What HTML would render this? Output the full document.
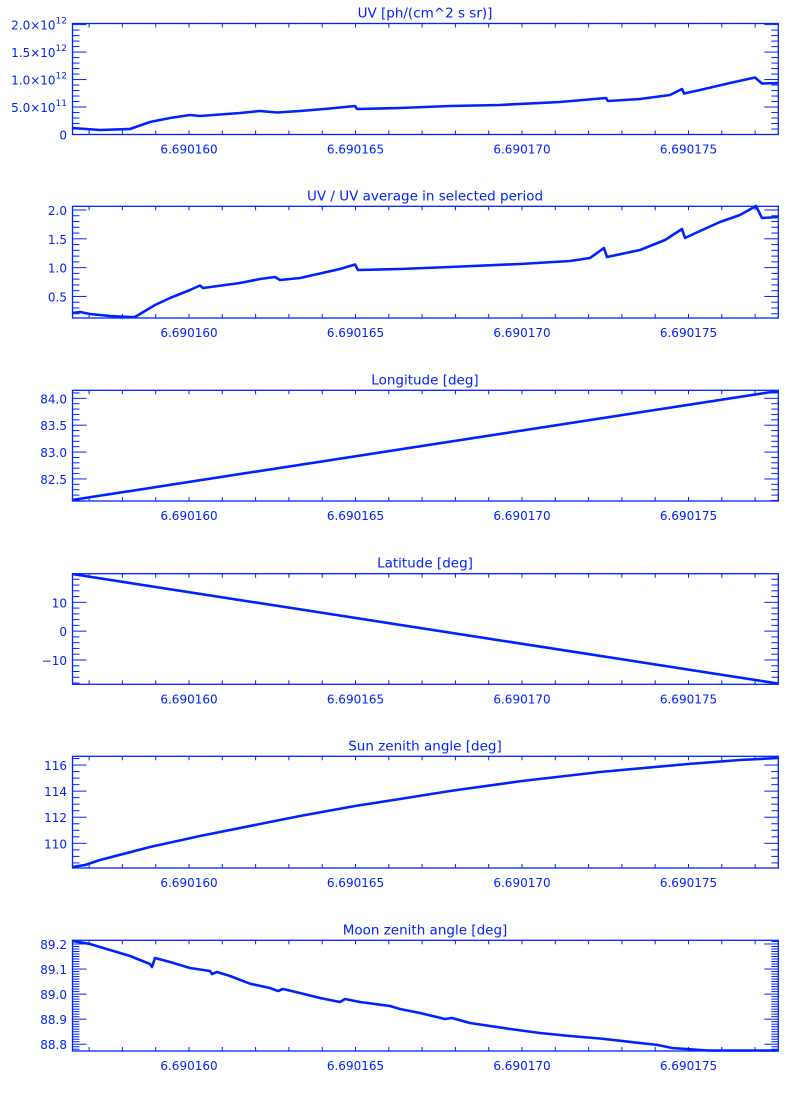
<!DOCTYPE html>
<html><head><meta charset="utf-8">
<style>
html,body{margin:0;padding:0;background:#fff;}
svg{display:block;}
text{font-family:"DejaVu Sans","Liberation Sans",sans-serif;fill:#0022ff;}
</style></head>
<body>
<svg id="s" width="800" height="1100" xmlns="http://www.w3.org/2000/svg"></svg>
<script>
const C="#0022ff";
const s=document.getElementById('s');
const NS="http://www.w3.org/2000/svg";
function el(t,a,txt){const e=document.createElementNS(NS,t);for(const k in a)e.setAttribute(k,a[k]);if(txt!==undefined)e.textContent=txt;s.appendChild(e);return e;}
const L=72.5,R=778.3;
const panels=[
 {top:23.5,bot:134.5,vmin:0,vmax:2.02e12,maj:5e11,minr:1e11,title:"UV [ph/(cm^2 s sr)]",
  labels:[[0,"0"],[5e11,"5.0×10","11"],[1e12,"1.0×10","12"],[1.5e12,"1.5×10","12"],[2e12,"2.0×10","12"]],
  pts:[[72,128],[100,130],[130,129],[150,122],[170,118],[190,115],[200,116],[240,113],[260,111],[277,112.5],[300,111],[330,108.5],[355,106],[357,109],[400,108],[450,106],[500,105],[560,102],[606,98],[608,101],[640,99],[670,95],[682,89],[684,93.5],[700,90],[730,83],[755,77.5],[762,83.5],[778,83]]},
 {top:206.3,bot:318,vmin:0.126,vmax:2.064,maj:0.5,minr:0.1,title:"UV / UV average in selected period",
  labels:[[0.5,"0.5"],[1,"1.0"],[1.5,"1.5"],[2,"2.0"]],
  pts:[[72,313],[80,312],[90,314],[110,316],[130,317],[135,317],[140,314],[155,305],[170,298],[180,294],[190,290],[200,285.5],[203,288],[240,283],[260,279],[275,277],[280,280],[300,278],[340,269],[355,264.5],[358,270],[400,269],[450,267],[520,264],[570,261],[590,258],[604,248],[607,257],[640,250],[665,240],[682,229],[685,238],[700,231],[720,222],[740,215],[756,206],[762,218],[778,217]]},
 {top:390.3,bot:501,vmin:82.09,vmax:84.149,maj:0.5,minr:0.1,title:"Longitude [deg]",
  labels:[[82.5,"82.5"],[83,"83.0"],[83.5,"83.5"],[84,"84.0"]],
  pts:[[72,500],[778,391]]},
 {top:573.7,bot:684.3,vmin:-18.44,vmax:19.93,maj:10,minr:2,title:"Latitude [deg]",
  labels:[[-10,"−10"],[0,"0"],[10,"10"]],
  pts:[[72,574],[778,683.5]]},
 {top:756.3,bot:868,vmin:108.11,vmax:116.67,maj:2,minr:0.5,title:"Sun zenith angle [deg]",
  labels:[[110,"110"],[112,"112"],[114,"114"],[116,"116"]],
  pts:[[72,867],[85,865],[100,860],[150,847],[200,836],[260,824],[300,816],[355,806],[400,799],[450,791],[522,781],[600,772],[688,764],[740,760],[778,758]]},
 {top:940.3,bot:1051,vmin:88.773,vmax:89.2147,maj:0.1,minr:0.01,title:"Moon zenith angle [deg]",
  labels:[[88.8,"88.8"],[88.9,"88.9"],[89,"89.0"],[89.1,"89.1"],[89.2,"89.2"]],
  pts:[[73,941],[90,944],[110,950],[130,956],[150,964],[152,967],[155,958],[170,962],[190,968],[210,971],[212,974],[217,972],[230,976],[250,983.7],[270,988],[278,991],[283,989],[300,993],[320,998],[340,1002],[345,999],[360,1002],[390,1006],[400,1009],[420,1013],[445,1019],[452,1018],[470,1023],[510,1029],[540,1033],[570,1036],[600,1038.5],[640,1043],[658,1045],[672,1048],[708,1050.5],[778,1050.5]]}
];
const xmaj=[[189,"6.690160"],[355.5,"6.690165"],[522,"6.690170"],[688.5,"6.690175"]];
for(const p of panels){
  const Y=v=>p.bot-(v-p.vmin)/(p.vmax-p.vmin)*(p.bot-p.top);
  el('rect',{x:L,y:p.top,width:R-L,height:p.bot-p.top,fill:'none',stroke:C,'stroke-width':1.3});
  for(let x=189-33.3*3;x<R;x+=33.3){
    el('line',{x1:x,x2:x,y1:p.bot,y2:p.bot-4,stroke:C,'stroke-width':1});
    el('line',{x1:x,x2:x,y1:p.top,y2:p.top+4,stroke:C,'stroke-width':1});
  }
  for(const [x,t] of xmaj) el('text',{x:x,y:p.bot+19,'font-size':12,'text-anchor':'middle'},t);
  const n0=Math.ceil(p.vmin/p.minr-1e-6), n1=Math.floor(p.vmax/p.minr+1e-6);
  const ratio=Math.round(p.maj/p.minr);
  for(let n=n0;n<=n1;n++){
    const y=Y(n*p.minr); const isMaj=(((n%ratio)+ratio)%ratio)===0; const len=isMaj?14:7;
    el('line',{x1:L,x2:L+len,y1:y,y2:y,stroke:C,'stroke-width':1});
    el('line',{x1:R,x2:R-len,y1:y,y2:y,stroke:C,'stroke-width':1});
  }
  for(const lb of p.labels){
    const y=Y(lb[0])+5;
    if(lb[2]){
      const t=el('text',{x:67,y:y,'font-size':12,'text-anchor':'end'});
      const a=document.createElementNS(NS,'tspan');a.textContent=lb[1];t.appendChild(a);
      const b=document.createElementNS(NS,'tspan');b.textContent=lb[2];b.setAttribute('dy','-6');b.setAttribute('font-size','9');t.appendChild(b);
    } else el('text',{x:67,y:y,'font-size':12,'text-anchor':'end'},lb[1]);
  }
  el('text',{x:425,y:p.top-6,'font-size':13.5,'text-anchor':'middle'},p.title);
  el('polyline',{points:p.pts.map(q=>q.join(',')).join(' '),fill:'none',stroke:C,'stroke-width':2.6,'stroke-linejoin':'round'});
}
</script>
</body></html>
